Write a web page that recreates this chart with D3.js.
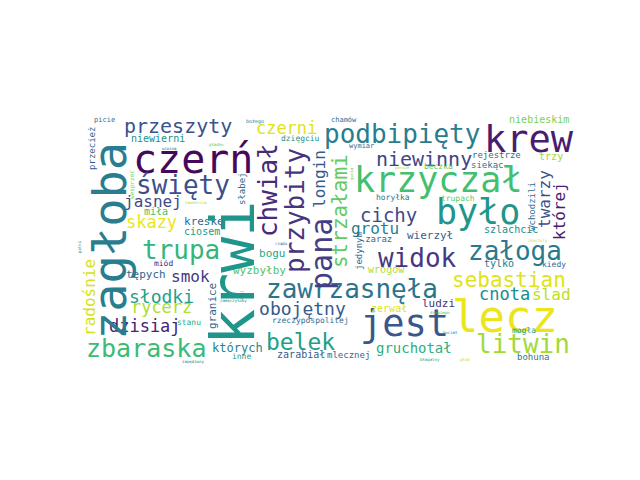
<!DOCTYPE html>
<html>
<head>
<meta charset="utf-8">
<script src="https://cdn.jsdelivr.net/npm/d3@7"></script>
<style>
  body { margin: 0; background: #fff; }
  svg text { font-family: "DejaVu Sans Mono", monospace; }
</style>
</head>
<body>
<svg id="cloud"></svg>
<script>
var width = 640;
var height = 480;

// words of the cloud
var words = ["lecz","jest","czerń","krzyczał","było","krew","podbipięty","święty","trupa","zbaraska",
  "przeszyty","niewinny","widok","załoga","sebastian","cnota","ślad","litwin","zawrzasnęła","obojętny",
  "belek","gruchotał","słodki","rycerz","skazy","jasnej","dzisiaj","smok","czerni","cichy",
  "grotu","niewierni","kreskę","ciosem","miła","tępych","miód","stanu","których","inne",
  "wyzbyłby","bogu","rzeczypospolitej","zerwał","zarabiał","mlecznej","chamów","dzięgciu","wymiar","horyłka",
  "zaraz","wierzył","wrogów","trupach","beczka","niebieskim","rejestrze","trzy","siekąc","szlachcic",
  "tylko","kiedy","ludzi","mogła","bohuna","picie","bożego","gładko","wiosną","nawałnica",
  "drugiego","huczał","błagalny","głód","zamęczyłoby","zapędzony","rządu","złocisty","poroże",
  "krwi","zagłoba","chwiał","przybity","pana","longin","strzałami","słabej","radośnie","granice",
  "jedynym","twarzy","której","wchodzili","przecież","wesprzeć","pałki","złej","gucio"];

// relative word weight (largest word = 1)
var weights = [0.733,0.617,0.667,0.583,0.583,0.617,0.433,0.433,0.433,0.417,
  0.333,0.333,0.433,0.433,0.35,0.283,0.267,0.433,0.433,0.30,
  0.383,0.233,0.30,0.283,0.283,0.267,0.283,0.267,0.283,0.317,
  0.267,0.167,0.183,0.167,0.167,0.183,0.133,0.133,0.20,0.133,
  0.183,0.183,0.133,0.167,0.167,0.15,0.117,0.133,0.117,0.133,
  0.15,0.183,0.167,0.133,0.133,0.167,0.15,0.167,0.15,0.167,
  0.167,0.133,0.183,0.133,0.15,0.117,0.083,0.067,0.067,0.067,
  0.067,0.067,0.067,0.067,0.067,0.067,0.067,0.067,0.067,
  1.0,0.783,0.433,0.433,0.50,0.267,0.35,0.15,0.267,0.183,
  0.15,0.267,0.267,0.15,0.15,0.10,0.067,0.067,0.067];

// layout on the 400x200 cloud canvas (text start, baseline)
var cloudX = [300.0,225.8,42.7,221.0,287.1,325.8,196.8,45.2,50.0,4.8,
  35.5,238.7,240.3,312.9,300.0,321.8,364.5,319.4,150.0,144.4,
  150.0,238.7,39.5,41.1,37.1,35.5,23.4,73.4,141.9,225.8,
  218.5,41.1,83.9,83.9,51.6,37.1,59.7,78.2,106.5,122.6,
  123.4,144.4,154.8,234.7,158.9,199.2,202.4,162.1,216.9,238.7,
  230.0,263.7,232.3,291.1,277.4,346.0,316.1,370.2,315.3,325.8,
  325.8,372.6,275.8,348.4,352.4,11.3,133.9,104.0,66.1,84.7,
  282.3,292.7,274.2,306.5,112.9,82.3,157.3,361.3,254.0,
  140.3,37.1,158.9,180.6,203.2,197.6,215.3,133.1,12.1,109.7,
  227.4,379.0,391.1,366.9,12.1,43.5,0.8,131.5,220.2];

var cloudY = [174.2,177.4,46.0,61.3,87.1,29.0,21.8,62.9,115.3,194.4,
  13.7,40.3,121.8,116.1,137.9,148.4,148.4,191.1,146.8,160.5,
  188.7,191.1,150.8,158.9,90.3,73.4,174.2,133.9,14.5,85.5,
  95.2,21.0,87.9,96.0,79.8,130.6,121.0,168.5,190.3,196.0,
  127.4,113.7,166.9,158.1,195.2,195.2,4.8,20.2,25.8,67.7,
  101.6,99.2,126.6,68.5,42.7,5.6,33.9,35.5,41.9,94.4,
  121.8,121.8,154.0,175.0,196.8,4.8,5.6,24.2,27.4,71.0,
  159.7,175.8,197.6,197.6,150.0,199.2,104.0,101.6,42.7,
  184.7,180.6,97.6,126.6,140.3,74.2,122.6,71.8,177.4,171.8,
  124.2,90.3,100.0,92.7,43.5,66.9,110.5,148.4,51.6];

// 1 = written bottom to top
var vertical = [0,0,0,0,0,0,0,0,0,0, 0,0,0,0,0,0,0,0,0,0, 0,0,0,0,0,0,0,0,0,0,
  0,0,0,0,0,0,0,0,0,0, 0,0,0,0,0,0,0,0,0,0, 0,0,0,0,0,0,0,0,0,0,
  0,0,0,0,0,0,0,0,0,0, 0,0,0,0,0,0,0,0,0,
  1,1,1,1,1,1,1,1,1,1, 1,1,1,1,1,1,1,1,1];

// position on the viridis colormap
var tone = [0.97,0.27,0.02,0.70,0.52,0.08,0.42,0.24,0.66,0.68,
  0.25,0.20,0.16,0.41,0.95,0.48,0.90,0.86,0.38,0.28,
  0.56,0.63,0.57,0.88,0.97,0.23,0.10,0.16,0.95,0.22,
  0.44,0.50,0.33,0.55,0.70,0.33,0.12,0.62,0.45,0.55,
  0.72,0.60,0.35,0.95,0.30,0.35,0.35,0.50,0.35,0.40,
  0.35,0.30,0.88,0.75,0.75,0.80,0.35,0.85,0.40,0.50,
  0.40,0.30,0.15,0.55,0.40,0.35,0.40,0.75,0.35,0.88,
  0.70,0.50,0.55,0.90,0.50,0.45,0.35,0.90,0.85,
  0.52,0.42,0.12,0.15,0.18,0.28,0.76,0.35,0.94,0.33,
  0.30,0.25,0.08,0.35,0.30,0.80,0.45,0.40,0.75];

var fdata = words.map(function (w, i) {
  return { text: w, weight: weights[i], cx: cloudX[i], cy: cloudY[i], vert: vertical[i], tone: tone[i] };
});

// cloud canvas 400x200 shown in the figure area (aspect kept)
var xScale = d3.scaleLinear().domain([0, 400]).range([80, 576]);
var yScale = d3.scaleLinear().domain([0, 200]).range([116, 364]);
var fontSize = d3.scaleLinear().domain([0, 1]).range([0, 60]);
var color = d3.scaleSequential(d3.interpolateViridis).domain([0, 1]);

var svg = d3.select("#cloud")
  .attr("width", width)
  .attr("height", height)
  .style("background", "#fff");

svg.selectAll("text")
  .data(fdata)
  .enter().append("text")
  .attr("transform", function (d) {
    var t = "translate(" + xScale(d.cx) + "," + yScale(d.cy) + ")";
    return d.vert ? t + " rotate(-90)" : t;
  })
  .attr("font-size", d => fontSize(d.weight))
  .attr("fill", d => color(d.tone))
  .text(d => d.text);
</script>
</body>
</html>
